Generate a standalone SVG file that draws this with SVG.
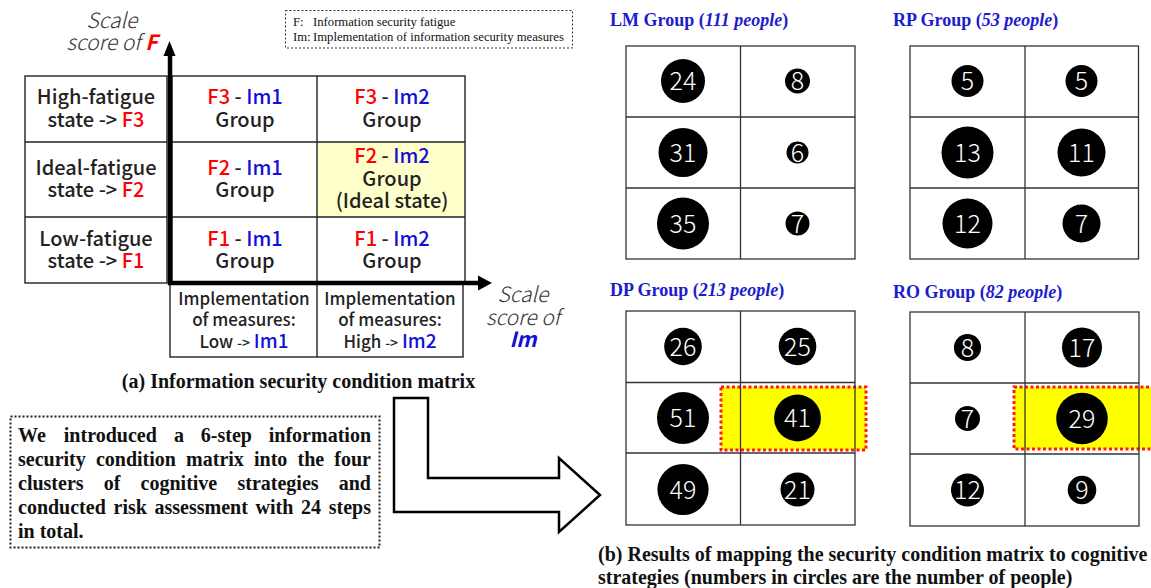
<svg xmlns="http://www.w3.org/2000/svg" width="1151" height="588" viewBox="0 0 1151 588">
<style>
.sans{font-family:"Noto Sans CJK JP","Noto Sans",sans-serif}
.serif{font-family:"Liberation Serif","Times New Roman",serif}
.cell{font-size:20px;fill:#222;text-anchor:middle;font-weight:500}
.lab{font-size:17px;fill:#222;text-anchor:middle;font-weight:500}
.r{fill:#ff0000}
.b{fill:#1010d8}
.ax{font-size:21px;fill:#333;font-style:italic;text-anchor:middle;font-weight:300}
.box{fill:none;stroke:#222;stroke-width:1.4}
.grid{fill:none;stroke:#333;stroke-width:1.3}
.num{font-family:"Noto Sans CJK JP","Noto Sans",sans-serif;font-size:25px;fill:#fff;text-anchor:middle;font-weight:300}
.ttl{font-family:"Liberation Serif","Times New Roman",serif;font-size:18px;font-weight:bold;fill:#1c1ccc}
.par{font-family:"Liberation Serif","Times New Roman",serif;font-size:20px;font-weight:bold;fill:#111}
.hl{fill:#ffff00;stroke:#ff1a1a;stroke-width:3;stroke-dasharray:3 2.5}
</style>

<g id="legend">
<rect x="285.5" y="10.5" width="287" height="37.5" fill="#fff" stroke="#333" stroke-width="1" stroke-dasharray="2 2"/>
<text class="serif" font-size="12.7" fill="#111" x="293" y="26">F:</text>
<text class="serif" font-size="12.7" fill="#111" x="313" y="26">Information security fatigue</text>
<text class="serif" font-size="12.7" fill="#111" x="293" y="41">Im:</text>
<text class="serif" font-size="12.7" fill="#111" x="313" y="41">Implementation of information security measures</text>
</g>

<g id="axis-labels">
<text class="sans ax" x="112" y="28">Scale</text>
<text class="sans ax" x="112" y="50">score of <tspan class="r" font-weight="bold">F</tspan></text>
<text class="sans ax" x="523" y="302" font-size="20">Scale</text>
<text class="sans ax" x="523" y="325" font-size="20">score of</text>
<text class="sans ax" x="523" y="347" font-size="20"><tspan class="b" font-weight="bold">Im</tspan></text>
</g>

<g id="matrix">
<rect x="317" y="142" width="148" height="75" fill="#ffffcc"/>
<rect class="box" x="25" y="76" width="142" height="207"/>
<line class="box" x1="25" y1="142" x2="167" y2="142"/>
<line class="box" x1="25" y1="217" x2="167" y2="217"/>
<rect class="box" x="172" y="76" width="293" height="207"/>
<line class="box" x1="172" y1="142" x2="465" y2="142"/>
<line class="box" x1="172" y1="217" x2="465" y2="217"/>
<line class="box" x1="317" y1="76" x2="317" y2="283"/>
<rect class="box" x="170" y="283" width="293" height="74"/>
<line class="box" x1="317" y1="283" x2="317" y2="357"/>
</g>

<g id="matrix-text" class="sans">
<text class="cell" x="96" y="104">High-fatigue</text>
<text class="cell" x="96" y="127">state -&gt; <tspan class="r">F3</tspan></text>
<text class="cell" x="96" y="175">Ideal-fatigue</text>
<text class="cell" x="96" y="197">state -&gt; <tspan class="r">F2</tspan></text>
<text class="cell" x="96" y="246">Low-fatigue</text>
<text class="cell" x="96" y="268">state -&gt; <tspan class="r">F1</tspan></text>

<text class="cell" x="245" y="104"><tspan class="r">F3</tspan> - <tspan class="b">Im1</tspan></text>
<text class="cell" x="245" y="127">Group</text>
<text class="cell" x="392" y="104"><tspan class="r">F3</tspan> - <tspan class="b">Im2</tspan></text>
<text class="cell" x="392" y="127">Group</text>

<text class="cell" x="245" y="175"><tspan class="r">F2</tspan> - <tspan class="b">Im1</tspan></text>
<text class="cell" x="245" y="197">Group</text>
<text class="cell" x="392" y="163"><tspan class="r">F2</tspan> - <tspan class="b">Im2</tspan></text>
<text class="cell" x="392" y="186">Group</text>
<text class="cell" x="392" y="208">(Ideal state)</text>

<text class="cell" x="245" y="246"><tspan class="r">F1</tspan> - <tspan class="b">Im1</tspan></text>
<text class="cell" x="245" y="268">Group</text>
<text class="cell" x="392" y="246"><tspan class="r">F1</tspan> - <tspan class="b">Im2</tspan></text>
<text class="cell" x="392" y="268">Group</text>

<text class="lab" x="244" y="305">Implementation</text>
<text class="lab" x="244" y="326">of measures:</text>
<text class="lab" x="244" y="348">Low <tspan font-size="14">-&gt;</tspan> <tspan class="b" font-size="19">Im1</tspan></text>
<text class="lab" x="390" y="305">Implementation</text>
<text class="lab" x="390" y="326">of measures:</text>
<text class="lab" x="390" y="348">High <tspan font-size="14">-&gt;</tspan> <tspan class="b" font-size="19">Im2</tspan></text>
</g>

<g id="connectors">
<line x1="170" y1="285" x2="170" y2="54" stroke="#000" stroke-width="4.5"/>
<polygon points="163.5,56 169.5,41 175.5,56" fill="#000"/>
<line x1="168" y1="283" x2="480" y2="283" stroke="#000" stroke-width="4.5"/>
<polygon points="478,275.5 492,283 478,290.5" fill="#000"/>
<polygon points="394,398 428,398 428,478 559,478 559,458 600,495 559,532 559,512 394,512" fill="#fff" stroke="#000" stroke-width="2.5" stroke-linejoin="miter"/>
</g>

<g id="caption-a">
<text class="par" x="298.5" y="388" text-anchor="middle">(a) Information security condition matrix</text>
</g>

<g id="note">
<rect x="10.5" y="416.5" width="369" height="131" fill="none" stroke="#222" stroke-width="2" stroke-dasharray="2 2"/>
<text class="par" y="442"><tspan x="18">We</tspan><tspan x="63.8">introduced</tspan><tspan x="174">a</tspan><tspan x="200.8">6-step</tspan></text>
<text class="par" x="371" y="442" text-anchor="end">information</text>
<text class="par" y="466"><tspan x="18">security</tspan><tspan x="95.9">condition</tspan><tspan x="186.1">matrix</tspan><tspan x="254">into</tspan><tspan x="297.5">the</tspan></text>
<text class="par" x="371" y="466" text-anchor="end">four</text>
<text class="par" y="490"><tspan x="18">clusters</tspan><tspan x="103.7">of</tspan><tspan x="140.6">cognitive</tspan><tspan x="237.5">strategies</tspan></text>
<text class="par" x="371" y="490" text-anchor="end">and</text>
<text class="par" y="514"><tspan x="18">conducted</tspan><tspan x="113.5">risk</tspan><tspan x="154.5">assessment</tspan><tspan x="255.6">with</tspan><tspan x="301">24</tspan></text>
<text class="par" x="371" y="514" text-anchor="end">steps</text>
<text class="par" x="18" y="538">in total.</text>
</g>

<g id="LM">
<text class="ttl" x="610" y="26">LM Group (<tspan font-style="italic">111 people</tspan>)</text>
<rect class="grid" x="626" y="46" width="229" height="213"/>
<line class="grid" x1="740.5" y1="46" x2="740.5" y2="259"/>
<line class="grid" x1="626" y1="117" x2="855" y2="117"/>
<line class="grid" x1="626" y1="188" x2="855" y2="188"/>
<circle cx="683" cy="81" r="22"/><text class="num" x="683" y="90">24</text>
<circle cx="797.5" cy="81" r="12.5"/><text class="num" x="797.5" y="90">8</text>
<circle cx="683" cy="152.5" r="24.5"/><text class="num" x="683" y="161.5">31</text>
<circle cx="797.5" cy="152.5" r="11"/><text class="num" x="797.5" y="161.5">6</text>
<circle cx="683" cy="223.5" r="26"/><text class="num" x="683" y="232.5">35</text>
<circle cx="797.5" cy="223.5" r="12"/><text class="num" x="797.5" y="232.5">7</text>
</g>

<g id="RP">
<text class="ttl" x="893" y="26">RP Group (<tspan font-style="italic">53 people</tspan>)</text>
<rect class="grid" x="910" y="46" width="228.5" height="213"/>
<line class="grid" x1="1025" y1="46" x2="1025" y2="259"/>
<line class="grid" x1="910" y1="117" x2="1138.5" y2="117"/>
<line class="grid" x1="910" y1="188" x2="1138.5" y2="188"/>
<circle cx="967.5" cy="81" r="16"/><text class="num" x="967.5" y="90">5</text>
<circle cx="1081.5" cy="81" r="16"/><text class="num" x="1081.5" y="90">5</text>
<circle cx="967.5" cy="152.5" r="26"/><text class="num" x="967.5" y="161.5">13</text>
<circle cx="1081.5" cy="152.5" r="24"/><text class="num" x="1081.5" y="161.5">11</text>
<circle cx="967.5" cy="223.5" r="25"/><text class="num" x="967.5" y="232.5">12</text>
<circle cx="1081.5" cy="223.5" r="19"/><text class="num" x="1081.5" y="232.5">7</text>
</g>

<g id="DP">
<text class="ttl" x="610" y="296">DP Group (<tspan font-style="italic">213 people</tspan>)</text>
<rect class="hl" x="721" y="387" width="145" height="63"/>
<rect class="grid" x="626" y="311" width="229" height="214"/>
<line class="grid" x1="740.5" y1="311" x2="740.5" y2="525"/>
<line class="grid" x1="626" y1="382.5" x2="855" y2="382.5"/>
<line class="grid" x1="626" y1="453" x2="855" y2="453"/>
<circle cx="683" cy="346.5" r="18.8"/><text class="num" x="683" y="355.5">26</text>
<circle cx="797.5" cy="346.5" r="18.8"/><text class="num" x="797.5" y="355.5">25</text>
<circle cx="683" cy="418" r="26"/><text class="num" x="683" y="427">51</text>
<circle cx="797.5" cy="418" r="23.4"/><text class="num" x="797.5" y="427">41</text>
<circle cx="683" cy="489.5" r="25.6"/><text class="num" x="683" y="498.5">49</text>
<circle cx="797.5" cy="489.5" r="17"/><text class="num" x="797.5" y="498.5">21</text>
</g>

<g id="RO">
<text class="ttl" x="893" y="298">RO Group (<tspan font-style="italic">82 people</tspan>)</text>
<rect class="hl" x="1014" y="387" width="150" height="62"/>
<rect class="grid" x="910" y="312" width="229" height="214"/>
<line class="grid" x1="1025" y1="312" x2="1025" y2="526"/>
<line class="grid" x1="910" y1="383" x2="1139" y2="383"/>
<line class="grid" x1="910" y1="454" x2="1139" y2="454"/>
<circle cx="967.5" cy="347.5" r="13.6"/><text class="num" x="967.5" y="356.5">8</text>
<circle cx="1082" cy="347.5" r="20"/><text class="num" x="1082" y="356.5">17</text>
<circle cx="967.5" cy="418.5" r="12.5"/><text class="num" x="967.5" y="427.5">7</text>
<circle cx="1082" cy="418.5" r="25.8"/><text class="num" x="1082" y="427.5">29</text>
<circle cx="967.5" cy="490" r="16.5"/><text class="num" x="967.5" y="499">12</text>
<circle cx="1082" cy="490" r="14.3"/><text class="num" x="1082" y="499">9</text>
</g>

<g id="caption-b">
<text class="par" x="598" y="561">(b) Results of mapping the security condition matrix to cognitive</text>
<text class="par" x="598" y="584">strategies (numbers in circles are the number of people)</text>
</g>
</svg>
